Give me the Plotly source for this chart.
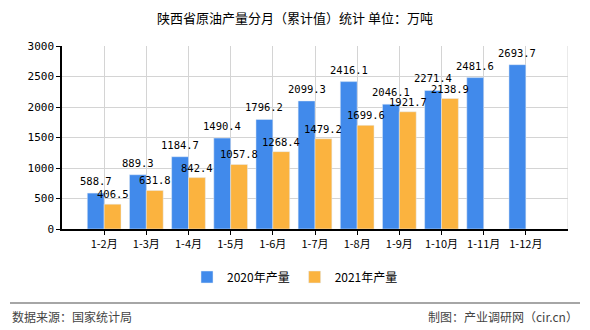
import plotly.graph_objects as go

categories = ["1-2月", "1-3月", "1-4月", "1-5月", "1-6月", "1-7月", "1-8月", "1-9月", "1-10月", "1-11月", "1-12月"]
values_2020 = [588.7, 889.3, 1184.7, 1490.4, 1796.2, 2099.3, 2416.1, 2046.1, 2271.4, 2481.6, 2693.7]
values_2021 = [406.5, 631.8, 842.4, 1057.8, 1268.4, 1479.2, 1699.6, 1921.7, 2138.9, None, None]
series_names = ["2020年产量", "2021年产量"]
y_ticks = [0, 500, 1000, 1500, 2000, 2500, 3000]

xpos = list(range(1, len(categories) + 1))
label_font = dict(family="DejaVu Sans Mono, monospace", size=10.5, color="#000")

fig = go.Figure()
fig.add_trace(go.Bar(x=xpos, y=values_2020, name=series_names[0], marker_color="#418AEB"))
fig.add_trace(go.Bar(x=xpos, y=values_2021, name=series_names[1], marker_color="#FBB33F"))

annotations = []
for xi, v in zip(xpos, values_2020):
    annotations.append(dict(x=xi - 0.2, y=v, xref="x", yref="y", text=f"{v:.1f}",
                            showarrow=False, yshift=12, xanchor="center", yanchor="middle",
                            font=label_font))
for xi, v in zip(xpos, values_2021):
    if v is None:
        continue
    annotations.append(dict(x=xi + 0.2, y=v, xref="x", yref="y", text=f"{v:.1f}",
                            showarrow=False, yshift=10, xanchor="center", yanchor="middle",
                            font=label_font))

annotations += [
    dict(text="数据来源：国家统计局", xref="paper", yref="paper", x=-52 / 506, y=-87 / 183,
         xanchor="left", yanchor="middle", showarrow=False,
         font=dict(family="Noto Sans CJK SC", size=12, color="#444")),
    dict(text="制图：产业调研网（cir.cn）", xref="paper", yref="paper", x=1 + 12 / 506, y=-87 / 183,
         xanchor="right", yanchor="middle", showarrow=False,
         font=dict(family="Noto Sans CJK SC", size=12, color="#444")),
]

fig.update_layout(
    width=590, height=330,
    margin=dict(l=62, r=22, t=46, b=101),
    paper_bgcolor="white", plot_bgcolor="white",
    barmode="group", bargap=0.2, bargroupgap=0,
    showlegend=True,
    title=dict(text="陕西省原油产量分月（累计值）统计 单位：万吨", x=0.5, xanchor="center",
               y=1 - 18 / 330, yanchor="middle", yref="container",
               font=dict(family="Noto Sans CJK SC", size=13, color="#000")),
    legend=dict(orientation="h", x=0.5, xanchor="center", xref="container",
                y=1 - 277 / 330, yanchor="middle", yref="container",
                font=dict(family="Noto Sans CJK SC", size=12, color="#000"),
                itemwidth=30, traceorder="normal"),
    font=dict(family="Noto Sans CJK SC", size=11, color="#000"),
    xaxis=dict(range=[0, 12], tickmode="array", tickvals=xpos, ticktext=categories,
               showgrid=True, gridcolor="#d4d4d4", gridwidth=1,
               showline=True, linecolor="#000", linewidth=1.5,
               ticks="outside", ticklen=4, tickcolor="#000",
               tickfont=dict(family="Noto Sans CJK SC", size=11, color="#000"), zeroline=False),
    yaxis=dict(range=[0, 3000], tickmode="array", tickvals=y_ticks,
               showgrid=True, gridcolor="#d4d4d4", gridwidth=1,
               showline=True, linecolor="#000", linewidth=1.5,
               ticks="outside", ticklen=4, tickcolor="#000",
               tickfont=dict(family="DejaVu Sans Mono, monospace", size=11, color="#000"), zeroline=False),
    shapes=[
        dict(type="line", xref="x", yref="y", x0=12, x1=12, y0=0, y1=3000,
             line=dict(color="#d4d4d4", width=1)),
        dict(type="line", xref="paper", yref="paper", x0=-52 / 506, x1=1 + 12 / 506,
             y0=-74 / 183, y1=-74 / 183, line=dict(color="#888", width=1.5)),
    ],
    annotations=annotations,
)

fig.write_html("out.html")
